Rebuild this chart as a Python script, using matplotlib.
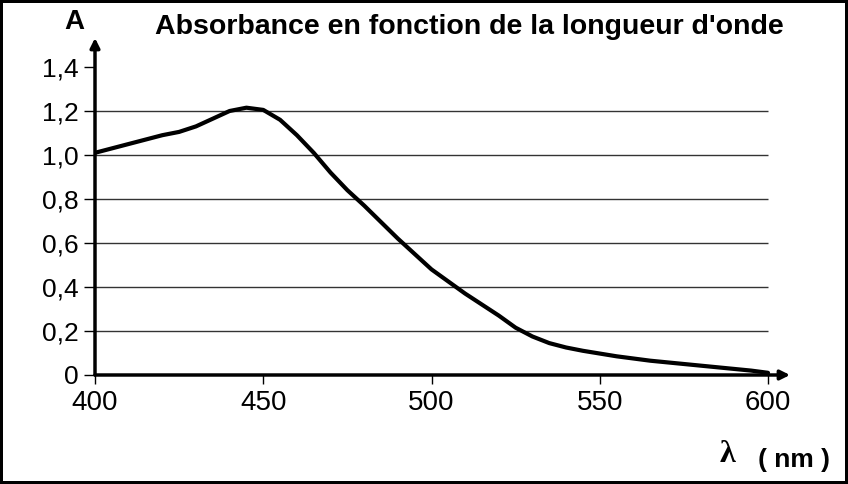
import matplotlib.pyplot as plt

plt.rcParams['font.family'] = ['Liberation Sans', 'DejaVu Sans']

# longueur d'onde (nm) et absorbance
wavelength = [400, 410, 420, 425, 430, 435, 440, 445, 450, 455, 460, 465, 470, 475, 480,
              490, 500, 510, 520, 525, 530, 535, 540, 545, 555, 565, 575, 585, 595, 600]
absorbance = [1.01, 1.05, 1.09, 1.105, 1.13, 1.165, 1.20, 1.215, 1.205, 1.16, 1.09, 1.01,
              0.92, 0.84, 0.77, 0.62, 0.48, 0.37, 0.27, 0.215, 0.175, 0.145, 0.125,
              0.11, 0.085, 0.065, 0.05, 0.035, 0.02, 0.01]
x_ticks = [400, 450, 500, 550, 600]
y_ticks = [0, 0.2, 0.4, 0.6, 0.8, 1.0, 1.2, 1.4]
y_labels = ["0", "0,2", "0,4", "0,6", "0,8", "1,0", "1,2", "1,4"]

fig = plt.figure(figsize=(8.48, 4.84), dpi=100)
fig.patch.set_edgecolor('black')
fig.patch.set_linewidth(3)
ax = fig.add_axes([95 / 848, 1 - 375 / 484, (790 - 95) / 848, (375 - 38) / 484])

ax.set_xlim(400, 400 + (790 - 95) * 200 / 673)
ax.set_ylim(0, 337 / 220)

# lignes horizontales de la grille (jusqu'à 600 nm)
ax.hlines(y_ticks[1:-1], 400, 600, color='#333333', linewidth=1.0, zorder=1)

ax.plot(wavelength, absorbance, color='black', linewidth=3,
        solid_capstyle='round', solid_joinstyle='round', zorder=3)

for s in ['top', 'right', 'bottom', 'left']:
    ax.spines[s].set_visible(False)
# axes avec flèches
ax.annotate('', xy=(1.0, 0), xytext=(0, 0), xycoords='axes fraction',
            arrowprops=dict(arrowstyle='-|>', color='black', lw=2.5,
                            mutation_scale=14, shrinkA=0, shrinkB=0))
ax.annotate('', xy=(0, 1.0), xytext=(0, 0), xycoords='axes fraction',
            arrowprops=dict(arrowstyle='-|>', color='black', lw=2.5,
                            mutation_scale=14, shrinkA=0, shrinkB=0))

ax.set_xticks(x_ticks)
ax.set_xticklabels([str(v) for v in x_ticks])
ax.set_yticks(y_ticks)
ax.set_yticklabels(y_labels)
ax.tick_params(axis='y', direction='out', length=8, width=1, pad=4,
               labelsize=19)
ax.tick_params(axis='x', direction='out', length=6.5, width=1, pad=4,
               labelsize=20)

fig.text(74 / 848, 1 - 22 / 484, 'A', ha='center', va='center',
         fontsize=20, fontweight='bold')
fig.text(155 / 848, 1 - 27 / 484, "Absorbance en fonction de la longueur d'onde",
         ha='left', va='center', fontsize=20.5, fontweight='bold')
fig.text(720 / 848, 1 - 455 / 484, 'λ', ha='left', va='center',
         fontsize=23, fontweight='bold', family=['Liberation Serif', 'DejaVu Serif'])
fig.text(758 / 848, 1 - 460 / 484, '( nm )', ha='left', va='center',
         fontsize=19, fontweight='bold')

fig.savefig('out.png', dpi=100, edgecolor=fig.get_edgecolor())
